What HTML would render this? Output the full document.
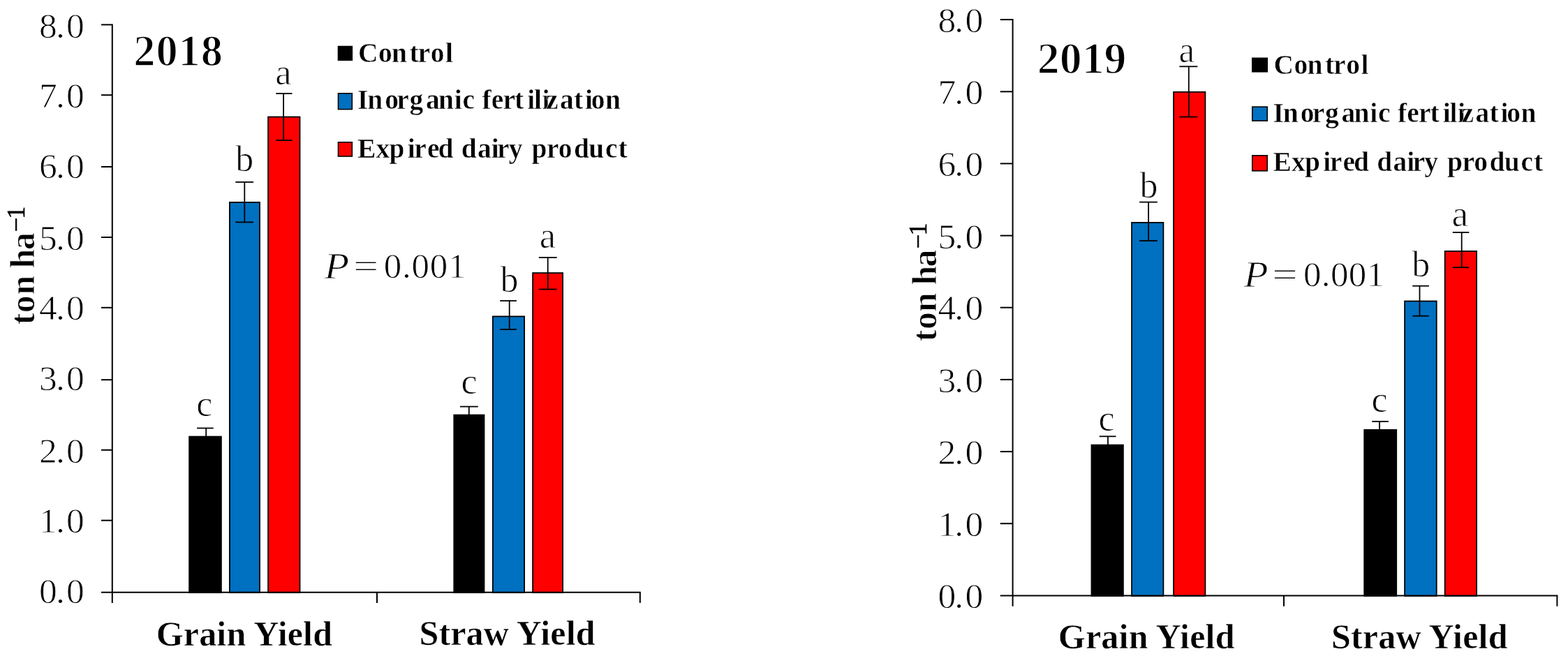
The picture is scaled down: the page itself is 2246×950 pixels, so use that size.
<!DOCTYPE html>
<html lang="en">
<head>
<meta charset="utf-8">
<title>Grain and straw yield (ton ha-1), 2018 and 2019</title>
<style>
html, body { margin: 0; padding: 0; background: #ffffff; }
body { width: 2246px; height: 950px; overflow: hidden; }
svg { display: block; }
svg text { font-family: 'Liberation Serif', 'DejaVu Serif', serif; fill: #000; }
</style>
</head>
<body>
<svg width="2246" height="950" viewBox="0 0 2246 950">
<rect x="0" y="0" width="2246" height="950" fill="#ffffff"/>
<g class="chart" id="chart-2018">
<g class="bars">
<rect x="271.1" y="625.6" width="45.8" height="223.55" fill="#000000" stroke="#000" stroke-width="1.8"/>
<rect x="328.9" y="289.9" width="43.1" height="559.25" fill="#0070C0" stroke="#000" stroke-width="1.8"/>
<rect x="384.1" y="167.5" width="45.4" height="681.65" fill="#FF0000" stroke="#000" stroke-width="1.8"/>
<rect x="650.3" y="594.6" width="43.2" height="254.55" fill="#000000" stroke="#000" stroke-width="1.8"/>
<rect x="705.9" y="453.4" width="45.2" height="395.75" fill="#0070C0" stroke="#000" stroke-width="1.8"/>
<rect x="763.1" y="391.1" width="43" height="458.05" fill="#FF0000" stroke="#000" stroke-width="1.8"/>
</g>
<g class="axes" stroke="#000" fill="none">
<line x1="160.8" y1="34.4" x2="160.8" y2="863.9" stroke-width="2"/>
<line x1="145" y1="848.65" x2="917.8" y2="848.65" stroke-width="2"/>
<line x1="145" y1="35.4" x2="160.8" y2="35.4" stroke-width="2"/>
<line x1="145" y1="136.2" x2="160.8" y2="136.2" stroke-width="2"/>
<line x1="145" y1="239" x2="160.8" y2="239" stroke-width="2"/>
<line x1="145" y1="340" x2="160.8" y2="340" stroke-width="2"/>
<line x1="145" y1="440.8" x2="160.8" y2="440.8" stroke-width="2"/>
<line x1="145" y1="544.2" x2="160.8" y2="544.2" stroke-width="2"/>
<line x1="145" y1="644.8" x2="160.8" y2="644.8" stroke-width="2"/>
<line x1="145" y1="745.7" x2="160.8" y2="745.7" stroke-width="2"/>
<line x1="540" y1="848.65" x2="540" y2="863.9" stroke-width="2"/>
<line x1="916.8" y1="848.65" x2="916.8" y2="863.9" stroke-width="2"/>
</g>
<g class="errors" stroke="#000" fill="none">
<line x1="295.2" y1="613.5" x2="295.2" y2="627.5" stroke-width="1.8"/>
<line x1="282.1" y1="613.5" x2="305.8" y2="613.5" stroke-width="1.8"/>
<line x1="350.3" y1="260.9" x2="350.3" y2="318.4" stroke-width="1.8"/>
<line x1="337.3" y1="260.9" x2="363.1" y2="260.9" stroke-width="1.8"/>
<line x1="337.3" y1="318.4" x2="363.1" y2="318.4" stroke-width="1.8"/>
<line x1="406.1" y1="134" x2="406.1" y2="201" stroke-width="1.8"/>
<line x1="395.3" y1="134" x2="418.5" y2="134" stroke-width="1.8"/>
<line x1="395.3" y1="201" x2="418.5" y2="201" stroke-width="1.8"/>
<line x1="671.8" y1="582.6" x2="671.8" y2="596.6" stroke-width="1.8"/>
<line x1="659" y1="582.6" x2="684.8" y2="582.6" stroke-width="1.8"/>
<line x1="729.7" y1="431" x2="729.7" y2="472" stroke-width="1.8"/>
<line x1="716.2" y1="431" x2="739.9" y2="431" stroke-width="1.8"/>
<line x1="716.2" y1="472" x2="739.9" y2="472" stroke-width="1.8"/>
<line x1="784.7" y1="369" x2="784.7" y2="414.5" stroke-width="1.8"/>
<line x1="771.8" y1="369" x2="797.7" y2="369" stroke-width="1.8"/>
<line x1="771.8" y1="414.5" x2="797.7" y2="414.5" stroke-width="1.8"/>
</g>
<g class="tick-labels">
<text x="56.03 80.03 95.03" y="53.5" font-size="51.6" stroke="#fff" stroke-width="0.9" stroke-linejoin="round">8.0</text>
<text x="56.03 80.03 95.03" y="153.75" font-size="51.6" stroke="#fff" stroke-width="0.9" stroke-linejoin="round">7.0</text>
<text x="56.03 80.03 95.03" y="254.75" font-size="51.6" stroke="#fff" stroke-width="0.9" stroke-linejoin="round">6.0</text>
<text x="56.03 80.03 95.03" y="357.75" font-size="51.6" stroke="#fff" stroke-width="0.9" stroke-linejoin="round">5.0</text>
<text x="56.03 80.03 95.03" y="458.25" font-size="51.6" stroke="#fff" stroke-width="0.9" stroke-linejoin="round">4.0</text>
<text x="56.03 80.03 95.03" y="559" font-size="51.6" stroke="#fff" stroke-width="0.9" stroke-linejoin="round">3.0</text>
<text x="56.03 80.03 95.03" y="663" font-size="51.6" stroke="#fff" stroke-width="0.9" stroke-linejoin="round">2.0</text>
<text x="56.03 80.03 95.03" y="763.25" font-size="51.6" stroke="#fff" stroke-width="0.9" stroke-linejoin="round">1.0</text>
<text x="56.03 80.03 95.03" y="864" font-size="51.6" stroke="#fff" stroke-width="0.9" stroke-linejoin="round">0.0</text>
</g>
<g class="sig-letters">
<text x="281.25" y="595.5" font-size="52" stroke="#fff" stroke-width="0.9" stroke-linejoin="round">c</text>
<text x="337.13" y="244.5" font-size="52" stroke="#fff" stroke-width="0.9" stroke-linejoin="round">b</text>
<text x="394.25" y="120.5" font-size="52" textLength="23.37" lengthAdjust="spacingAndGlyphs" stroke="#fff" stroke-width="0.9" stroke-linejoin="round">a</text>
<text x="660.44" y="564" font-size="52" stroke="#fff" stroke-width="0.9" stroke-linejoin="round">c</text>
<text x="716.5" y="417.75" font-size="52" stroke="#fff" stroke-width="0.9" stroke-linejoin="round">b</text>
<text x="772.75" y="355.25" font-size="52" textLength="23.37" lengthAdjust="spacingAndGlyphs" stroke="#fff" stroke-width="0.9" stroke-linejoin="round">a</text>
</g>
<text x="191.3" y="94.4" font-size="62.52" font-weight="bold" textLength="127.71" lengthAdjust="spacing" stroke="#fff" stroke-width="1.6" stroke-linejoin="round">2018</text>
<g class="legend">
<rect x="483.7" y="65.7" width="21.4" height="21.3" fill="#000"/>
<text x="512.95 541.92 560.88 586.62 598.52 616.73 638" y="88.8" font-size="39.5" font-weight="bold" stroke="#fff" stroke-width="0.5" stroke-linejoin="round">Control</text>
<rect x="484.5" y="133.8" width="19.8" height="22.8" fill="#0070C0" stroke="#000" stroke-width="1.6"/>
<text x="511.88 526.17 551.23 568.23 586.38 610.05 628.08 650.85 662.62 680.17 690.42 703.73 720.62 736.92 755.15 765 776.55 781.88 802.05 821.92 837.95 846.73 866.88" y="156" font-size="39.5" font-weight="bold" stroke="#fff" stroke-width="0.5" stroke-linejoin="round">Inorganic fertilization</text>
<rect x="484.5" y="203.8" width="19.8" height="20.2" fill="#FF0000" stroke="#000" stroke-width="1.6"/>
<text x="511.9 538.52 557.42 583.65 593.23 612.12 627.5 649.47 660.7 683.95 703.75 711.92 728.73 748.48 761.42 783.12 799.73 822 843.15 867.12 885.52" y="226" font-size="39.5" font-weight="bold" stroke="#fff" stroke-width="0.5" stroke-linejoin="round">Expired dairy product</text>
</g>
<text class="pvalue" stroke="#fff" stroke-width="0.9" stroke-linejoin="round"><tspan x="464.75" y="399" font-size="53" font-style="italic" textLength="35.34" lengthAdjust="spacingAndGlyphs">P</tspan> <tspan x="506" y="398.25" font-size="51" textLength="36.25" lengthAdjust="spacingAndGlyphs">=</tspan> <tspan x="549.75" y="398.25" font-size="51" textLength="117.69" lengthAdjust="spacing">0.001</tspan></text>
<g class="categories">
<text x="223.75" y="924.5" font-size="50" font-weight="bold" textLength="252.23" lengthAdjust="spacing" stroke="#fff" stroke-width="0.5" stroke-linejoin="round">Grain Yield</text>
<text x="600.5" y="924.25" font-size="50" font-weight="bold" textLength="252.01" lengthAdjust="spacing" stroke="#fff" stroke-width="0.5" stroke-linejoin="round">Straw Yield</text>
</g>
<text class="ylabel" transform="translate(48.8 466) rotate(-90)" font-size="50" font-weight="bold" stroke="#fff" stroke-width="1" stroke-linejoin="round"><tspan x="0.68 17.8 43.48 71.29 81.48 108" y="0">ton ha</tspan><tspan x="133.77 152.3" y="-13.6" font-size="36" font-weight="normal" stroke="#000" stroke-width="0.7">−1</tspan></text>
</g>
<g class="chart" id="chart-2019">
<g class="bars">
<rect x="1563.5" y="637.6" width="45.4" height="216.3" fill="#000000" stroke="#000" stroke-width="1.8"/>
<rect x="1621.1" y="318.9" width="45.3" height="535" fill="#0070C0" stroke="#000" stroke-width="1.8"/>
<rect x="1681.1" y="131.8" width="45.3" height="722.1" fill="#FF0000" stroke="#000" stroke-width="1.8"/>
<rect x="1954.2" y="615.9" width="46" height="238" fill="#000000" stroke="#000" stroke-width="1.8"/>
<rect x="2012.1" y="431.5" width="45.6" height="422.4" fill="#0070C0" stroke="#000" stroke-width="1.8"/>
<rect x="2069.7" y="359.9" width="45.4" height="494" fill="#FF0000" stroke="#000" stroke-width="1.8"/>
</g>
<g class="axes" stroke="#000" fill="none">
<line x1="1450.6" y1="27.1" x2="1450.6" y2="868.7" stroke-width="2"/>
<line x1="1432.7" y1="853.4" x2="2231.4" y2="853.4" stroke-width="2"/>
<line x1="1432.7" y1="28.1" x2="1450.6" y2="28.1" stroke-width="2"/>
<line x1="1432.7" y1="131.3" x2="1450.6" y2="131.3" stroke-width="2"/>
<line x1="1432.7" y1="234.4" x2="1450.6" y2="234.4" stroke-width="2"/>
<line x1="1432.7" y1="337.6" x2="1450.6" y2="337.6" stroke-width="2"/>
<line x1="1432.7" y1="440.7" x2="1450.6" y2="440.7" stroke-width="2"/>
<line x1="1432.7" y1="543.9" x2="1450.6" y2="543.9" stroke-width="2"/>
<line x1="1432.7" y1="647.1" x2="1450.6" y2="647.1" stroke-width="2"/>
<line x1="1432.7" y1="750.2" x2="1450.6" y2="750.2" stroke-width="2"/>
<line x1="1839" y1="853.4" x2="1839" y2="868.7" stroke-width="2"/>
<line x1="2230.4" y1="853.4" x2="2230.4" y2="868.7" stroke-width="2"/>
</g>
<g class="errors" stroke="#000" fill="none">
<line x1="1587" y1="625.3" x2="1587" y2="639.3" stroke-width="1.8"/>
<line x1="1574.8" y1="625.3" x2="1598.5" y2="625.3" stroke-width="1.8"/>
<line x1="1645.1" y1="289.6" x2="1645.1" y2="345" stroke-width="1.8"/>
<line x1="1632.1" y1="289.6" x2="1657.9" y2="289.6" stroke-width="1.8"/>
<line x1="1632.1" y1="345" x2="1657.9" y2="345" stroke-width="1.8"/>
<line x1="1702.8" y1="95.3" x2="1702.8" y2="167.5" stroke-width="1.8"/>
<line x1="1689.4" y1="95.3" x2="1715.4" y2="95.3" stroke-width="1.8"/>
<line x1="1689.4" y1="167.5" x2="1715.4" y2="167.5" stroke-width="1.8"/>
<line x1="1976" y1="603.9" x2="1976" y2="617.9" stroke-width="1.8"/>
<line x1="1965.3" y1="603.9" x2="1988.9" y2="603.9" stroke-width="1.8"/>
<line x1="2033.5" y1="409.7" x2="2033.5" y2="452.7" stroke-width="1.8"/>
<line x1="2023.2" y1="409.7" x2="2046.9" y2="409.7" stroke-width="1.8"/>
<line x1="2023.2" y1="452.7" x2="2046.9" y2="452.7" stroke-width="1.8"/>
<line x1="2093.7" y1="333" x2="2093.7" y2="383.2" stroke-width="1.8"/>
<line x1="2080.7" y1="333" x2="2104.3" y2="333" stroke-width="1.8"/>
<line x1="2080.7" y1="383.2" x2="2104.3" y2="383.2" stroke-width="1.8"/>
</g>
<g class="tick-labels">
<text x="1343.42 1367.33 1382.42" y="45.75" font-size="51.6" stroke="#fff" stroke-width="0.9" stroke-linejoin="round">8.0</text>
<text x="1343.42 1367.33 1382.42" y="149" font-size="51.6" stroke="#fff" stroke-width="0.9" stroke-linejoin="round">7.0</text>
<text x="1343.42 1367.33 1382.42" y="252.25" font-size="51.6" stroke="#fff" stroke-width="0.9" stroke-linejoin="round">6.0</text>
<text x="1343.42 1367.33 1382.42" y="355.75" font-size="51.6" stroke="#fff" stroke-width="0.9" stroke-linejoin="round">5.0</text>
<text x="1343.42 1367.33 1382.42" y="458.25" font-size="51.6" stroke="#fff" stroke-width="0.9" stroke-linejoin="round">4.0</text>
<text x="1343.42 1367.33 1382.42" y="561.75" font-size="51.6" stroke="#fff" stroke-width="0.9" stroke-linejoin="round">3.0</text>
<text x="1343.42 1367.33 1382.42" y="665" font-size="51.6" stroke="#fff" stroke-width="0.9" stroke-linejoin="round">2.0</text>
<text x="1343.42 1367.33 1382.42" y="768" font-size="51.6" stroke="#fff" stroke-width="0.9" stroke-linejoin="round">1.0</text>
<text x="1343.42 1367.33 1382.42" y="871" font-size="51.6" stroke="#fff" stroke-width="0.9" stroke-linejoin="round">0.0</text>
</g>
<g class="sig-letters">
<text x="1573.56" y="616.5" font-size="52" stroke="#fff" stroke-width="0.9" stroke-linejoin="round">c</text>
<text x="1632.62" y="283" font-size="52" stroke="#fff" stroke-width="0.9" stroke-linejoin="round">b</text>
<text x="1688.5" y="88.75" font-size="52" textLength="22.7" lengthAdjust="spacingAndGlyphs" stroke="#fff" stroke-width="0.9" stroke-linejoin="round">a</text>
<text x="1964.61" y="590" font-size="52" stroke="#fff" stroke-width="0.9" stroke-linejoin="round">c</text>
<text x="2022.33" y="396.25" font-size="52" stroke="#fff" stroke-width="0.9" stroke-linejoin="round">b</text>
<text x="2079.5" y="324" font-size="52" textLength="23.65" lengthAdjust="spacingAndGlyphs" stroke="#fff" stroke-width="0.9" stroke-linejoin="round">a</text>
</g>
<text x="1485.85" y="104.55" font-size="63.85" font-weight="bold" stroke="#fff" stroke-width="1.6" stroke-linejoin="round">2019</text>
<g class="legend">
<rect x="1793" y="82.5" width="23" height="21.1" fill="#000"/>
<text x="1824.45 1853.42 1872.38 1898.12 1910.03 1928.22 1949.5" y="105.6" font-size="39.5" font-weight="bold" stroke="#fff" stroke-width="0.5" stroke-linejoin="round">Control</text>
<rect x="1793.8" y="153.1" width="21.4" height="20" fill="#0070C0" stroke="#000" stroke-width="1.6"/>
<text x="1823.38 1837.67 1862.72 1879.72 1897.88 1921.55 1939.58 1962.35 1974.12 1991.67 2001.92 2015.22 2032.12 2048.43 2066.65 2076.5 2088.05 2093.38 2113.55 2133.43 2149.45 2158.22 2178.38" y="175.3" font-size="39.5" font-weight="bold" stroke="#fff" stroke-width="0.5" stroke-linejoin="round">Inorganic fertilization</text>
<rect x="1793.8" y="222.8" width="21.4" height="22" fill="#FF0000" stroke="#000" stroke-width="1.6"/>
<text x="1823.4 1850.03 1868.92 1895.15 1904.72 1923.62 1939 1960.97 1972.2 1995.45 2015.25 2023.42 2040.22 2059.97 2072.93 2094.62 2111.22 2133.5 2154.65 2178.62 2197.03" y="244.6" font-size="39.5" font-weight="bold" stroke="#fff" stroke-width="0.5" stroke-linejoin="round">Expired dairy product</text>
</g>
<text class="pvalue" stroke="#fff" stroke-width="0.9" stroke-linejoin="round"><tspan x="1781.75" y="410.75" font-size="53" font-style="italic" textLength="34.71" lengthAdjust="spacingAndGlyphs">P</tspan> <tspan x="1822" y="410" font-size="51" textLength="37.01" lengthAdjust="spacingAndGlyphs">=</tspan> <tspan x="1867" y="410" font-size="51" textLength="116.07" lengthAdjust="spacing">0.001</tspan></text>
<g class="categories">
<text x="1515.75" y="928.75" font-size="50" font-weight="bold" textLength="252.78" lengthAdjust="spacing" stroke="#fff" stroke-width="0.5" stroke-linejoin="round">Grain Yield</text>
<text x="1907" y="928.75" font-size="50" font-weight="bold" textLength="252.48" lengthAdjust="spacing" stroke="#fff" stroke-width="0.5" stroke-linejoin="round">Straw Yield</text>
</g>
<text class="ylabel" transform="translate(1340.8 490) rotate(-90)" font-size="50" font-weight="bold" stroke="#fff" stroke-width="1" stroke-linejoin="round"><tspan x="0.77 17.9 43.07 70.89 81.57 107.5" y="0">ton ha</tspan><tspan x="133.77 152.5" y="-13.6" font-size="36" font-weight="normal" stroke="#000" stroke-width="0.7">−1</tspan></text>
</g>
</svg>
</body>
</html>
